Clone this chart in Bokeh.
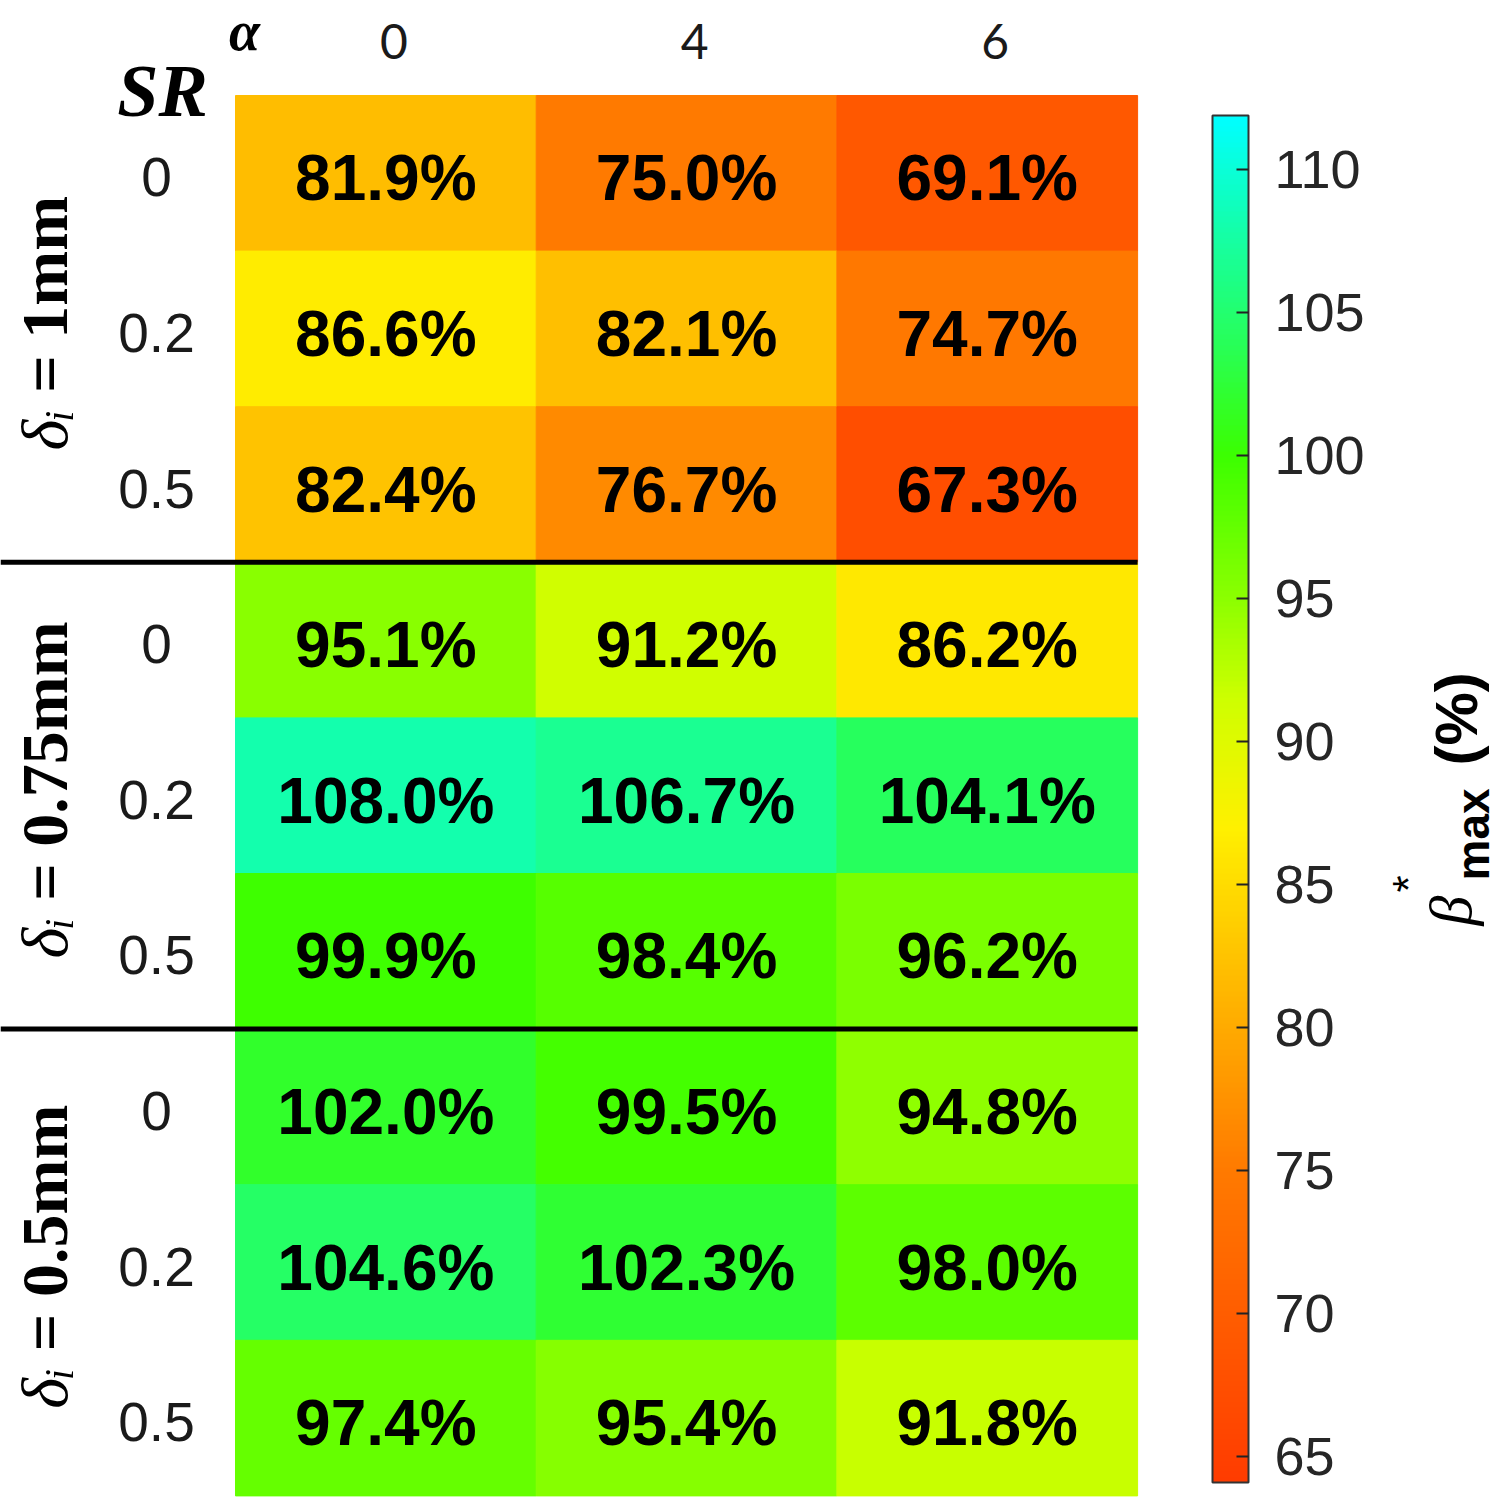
import math
from bokeh.plotting import figure
from bokeh.models import Range1d, LinearColorMapper, ColorBar, FixedTicker, ColumnDataSource
from bokeh.transform import transform
from bokeh.core.properties import value
from bokeh.embed import file_html
from bokeh.resources import INLINE

# ---------------- data ----------------
alpha_labels = ["0", "4", "6"]
sr_labels = ["0", "0.2", "0.5"]
delta_labels = ["1mm", "0.75mm", "0.5mm"]
beta_1mm = [[81.9, 75.0, 69.1],
            [86.6, 82.1, 74.7],
            [82.4, 76.7, 67.3]]
beta_075mm = [[95.1, 91.2, 86.2],
              [108.0, 106.7, 104.1],
              [99.9, 98.4, 96.2]]
beta_05mm = [[102.0, 99.5, 94.8],
             [104.6, 102.3, 98.0],
             [97.4, 95.4, 91.8]]
cbar_low, cbar_high = 64.1, 111.9
cbar_ticks = [65, 70, 75, 80, 85, 90, 95, 100, 105, 110]

# ---------------- colormap (style) ----------------
stops = [(64.1, (255, 60, 0)), (75.0, (255, 122, 0)), (82.0, (255, 190, 0)),
         (87.0, (255, 240, 0)), (91.5, (206, 255, 0)), (95.0, (140, 255, 0)),
         (100.0, (60, 255, 0)), (102.2, (48, 255, 48)), (104.3, (38, 255, 95)),
         (108.0, (20, 255, 170)), (111.9, (0, 255, 255))]
def cmap(v):
    for (a, ca), (b, cb) in zip(stops[:-1], stops[1:]):
        if v <= b:
            t = (v - a) / (b - a)
            return "#%02x%02x%02x" % tuple(int(round(ca[i] + t * (cb[i] - ca[i]))) for i in range(3))
    return "#%02x%02x%02x" % stops[-1][1]
N = 256
palette = [cmap(cbar_low + (cbar_high - cbar_low) * i / (N - 1)) for i in range(N)]
mapper = LinearColorMapper(palette=palette, low=cbar_low, high=cbar_high)

# ---------------- layout (style) ----------------
W, H = 1498, 1498
CELL_W = 300.7
CELL_H = 155.6
X0, Y0 = 235.0, 95.0
x_range = Range1d(-X0 / CELL_W, (W - X0) / CELL_W)
y_range = Range1d((H - Y0) / CELL_H, -Y0 / CELL_H)

def px2x(px):
    return -X0 / CELL_W + px / CELL_W

def py2y(py):
    return -Y0 / CELL_H + py / CELL_H

p = figure(width=W, height=H, x_range=x_range, y_range=y_range,
           x_axis_location=None, y_axis_location=None,
           toolbar_location=None, output_backend="svg", min_border=0)
p.grid.visible = False
p.outline_line_color = None
p.background_fill_color = "white"

# ---------------- cells ----------------
blocks = [beta_1mm, beta_075mm, beta_05mm]
xs, ys, vs, labs = [], [], [], []
for g, block in enumerate(blocks):
    for r, row in enumerate(block):
        for c, v in enumerate(row):
            xs.append(c + 0.5)
            ys.append(g * 3 + r + 0.5)
            vs.append(v)
            labs.append(f"{v:.1f}%")
src = ColumnDataSource(dict(x=xs, y=ys, v=vs, lab=labs))
p.rect("x", "y", width=1, height=1, source=src,
       fill_color=transform("v", mapper), line_color=transform("v", mapper), line_width=1)
p.text("x", "y", text="lab", source=src, text_align="center", text_baseline="middle",
       y_offset=5, text_font=value("Liberation Sans"), text_font_style="bold",
       text_font_size="64px", text_color="black")

# separators between delta groups
ng = len(blocks)
sep_y = [3 * g for g in range(1, ng)]
p.segment(x0=[px2x(0)] * len(sep_y), x1=[len(alpha_labels)] * len(sep_y),
          y0=sep_y, y1=sep_y, line_color="black", line_width=5)

# row tick labels (SR)
row_y = [g * 3 + r + 0.5 for g in range(ng) for r in range(len(sr_labels))]
row_t = [sr_labels[r] for g in range(ng) for r in range(len(sr_labels))]
p.text(x=[px2x(156)] * len(row_y), y=row_y, text=row_t, text_align="center",
       y_offset=4, text_baseline="middle", text_font=value("Liberation Sans"),
       text_font_size="55px", text_color="#1a1a1a")

# column tick labels (alpha)
p.text(x=[c + 0.5 for c in range(len(alpha_labels))], y=[py2y(41)] * len(alpha_labels),
       text=alpha_labels, x_offset=8, text_align="center", text_baseline="middle",
       text_font=value("Lato"), text_font_size="48px", text_color="#1a1a1a")

# axis names
p.text(x=[px2x(162)], y=[py2y(90)], text=["SR"], text_align="center",
       text_baseline="middle", text_font=value("Liberation Serif"),
       text_font_style="bold italic", text_font_size="74px", text_color="black")
p.text(x=[px2x(244)], y=[py2y(30)], text=["α"], text_align="center",
       text_baseline="middle", text_font=value("Liberation Serif"),
       text_font_style="bold italic", text_font_size="56px", text_color="black")

# group labels (rotated)
NB = "\u00a0"
CW = {'δ': 0.5, 'ᵢ': 0.3, NB: 0.25, '=': 0.57, '0': 0.5, '1': 0.5, '5': 0.5,
      '7': 0.5, '.': 0.25, 'm': 0.833}
def tw(s, size):
    return sum(CW.get(ch, 0.5) for ch in s) * size
GS = 66
left_part = "δᵢ"
gx = px2x(44)
for g, d in enumerate(delta_labels):
    right_part = NB + "=" + NB + d
    pc = g * 3 + 1.5 + (tw(right_part, GS) - tw(left_part, GS)) / 2 / CELL_H
    p.text(x=[gx], y=[pc], text=[left_part], angle=math.pi / 2, text_align="right",
           text_baseline="middle", text_font=value("Liberation Serif"),
           text_font_style="italic", text_font_size=f"{GS}px", text_color="black")
    p.text(x=[gx], y=[pc], text=[right_part], angle=math.pi / 2, text_align="left",
           text_baseline="middle", text_font=value("Liberation Serif"),
           text_font_style="bold", text_font_size=f"{GS}px", text_color="black")

# colorbar
color_bar = ColorBar(color_mapper=mapper, location=(1212, 16), width=36, height=1367,
                     padding=0, ticker=FixedTicker(ticks=cbar_ticks),
                     major_tick_in=12, major_tick_out=0, major_tick_line_color="#222222",
                     major_tick_line_width=2, minor_tick_line_color=None,
                     bar_line_color="#333333", bar_line_width=2,
                     major_label_text_font="Liberation Sans",
                     major_label_text_font_size="54px", major_label_text_color="#262626",
                     label_standoff=26, background_fill_alpha=0, border_line_color=None)
p.add_layout(color_bar)

# colorbar title pieces (rotated): β * max (%)
rot = math.pi / 2
p.text(x=[px2x(1450)], y=[py2y(925)], text=["β"], angle=rot, text_align="left",
       text_baseline="middle", text_font=value("Liberation Serif"),
       text_font_style="italic", text_font_size="60px", text_color="black")
p.text(x=[px2x(1408)], y=[py2y(892)], text=["*"], angle=rot, text_align="left",
       text_baseline="middle", text_font=value("Liberation Sans"),
       text_font_size="44px", text_color="black")
p.text(x=[px2x(1472)], y=[py2y(880)], text=["max"], angle=rot, text_align="left",
       text_baseline="middle", text_font=value("Liberation Sans"),
       text_font_style="bold", text_font_size="46px", text_color="black")
p.text(x=[px2x(1456)], y=[py2y(765)], text=["(%)"], angle=rot, text_align="left",
       text_baseline="middle", text_font=value("Liberation Sans"),
       text_font_style="bold", text_font_size="60px", text_color="black")

open("out.html", "w").write(file_html(p, INLINE))
